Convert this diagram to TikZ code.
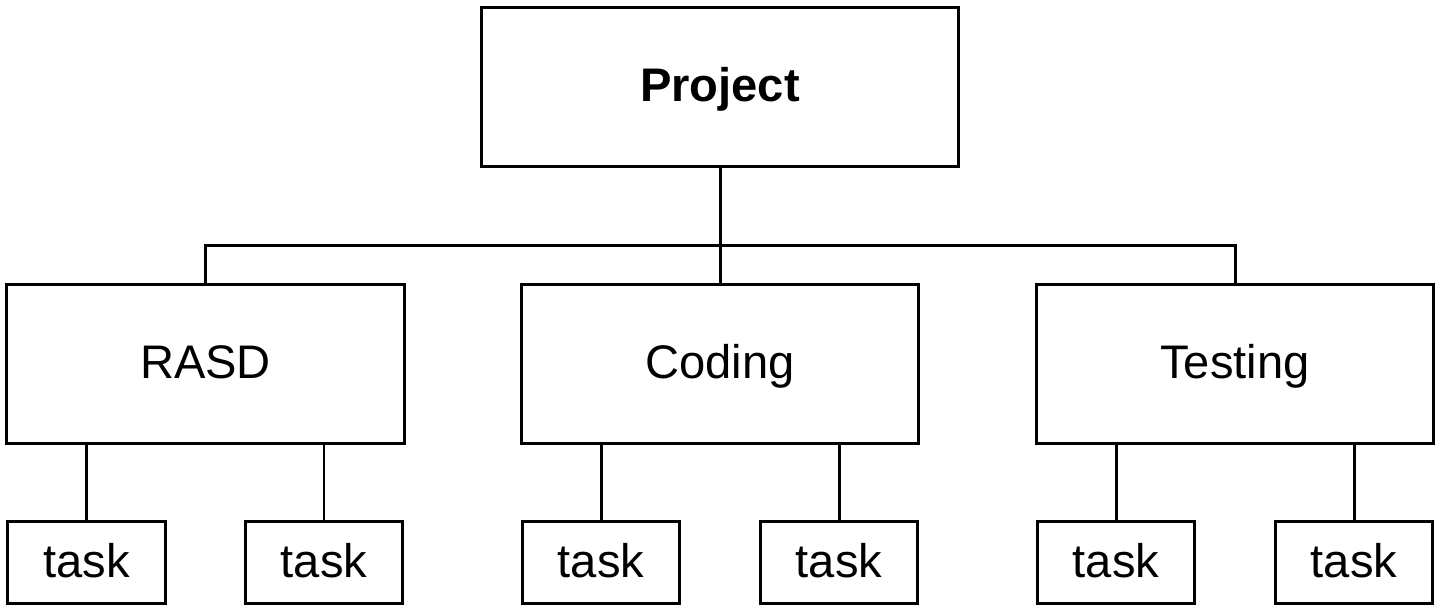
\documentclass[tikz,border=0pt]{standalone}
\usepackage{fontspec}
\setmainfont{Liberation Sans}
\usetikzlibrary{positioning}

\begin{document}
\begin{tikzpicture}[
    x=0.01cm, y=-0.01cm,
    box/.style={rectangle, draw=black, line width=0.85pt, minimum width=3.97cm, minimum height=1.58cm, inner sep=0pt, text height=0.85em, text depth=0pt, font=\fontsize{13.4}{16}\selectfont},
    topbox/.style={box, minimum width=4.76cm, font=\fontsize{13.4}{16}\selectfont\bfseries},
    taskbox/.style={box, minimum width=1.57cm, minimum height=0.81cm},
    link/.style={draw=black, line width=0.85pt}
]
\useasboundingbox (0,0) rectangle (1442,611);

% Project
\node[topbox] (project) at (720,87) {Project};

% Phases
\node[box] (rasd) at (205.5,364) {RASD};
\node[box] (coding) at (720,364) {Coding};
\node[box] (testing) at (1235,364) {Testing};

% Tasks
\node[taskbox] (rasdA) at (86.5,562.5) {task};
\node[taskbox] (rasdB) at (324,562.5) {task};
\node[taskbox] (codingA) at (601,562.5) {task};
\node[taskbox] (codingB) at (839,562.5) {task};
\node[taskbox] (testingA) at (1116,562.5) {task};
\node[taskbox] (testingB) at (1354,562.5) {task};

% Links
\coordinate (bus) at (720,245);
\draw[link] (project.south) -- (coding.north);
\draw[link] (rasd.north) |- (bus) -| (testing.north);
\draw[link] (rasd.south -| rasdA.north) -- (rasdA.north);
\draw[link] (rasd.south -| rasdB.north) -- (rasdB.north);
\draw[link] (coding.south -| codingA.north) -- (codingA.north);
\draw[link] (coding.south -| codingB.north) -- (codingB.north);
\draw[link] (testing.south -| testingA.north) -- (testingA.north);
\draw[link] (testing.south -| testingB.north) -- (testingB.north);

\end{tikzpicture}
\end{document}
